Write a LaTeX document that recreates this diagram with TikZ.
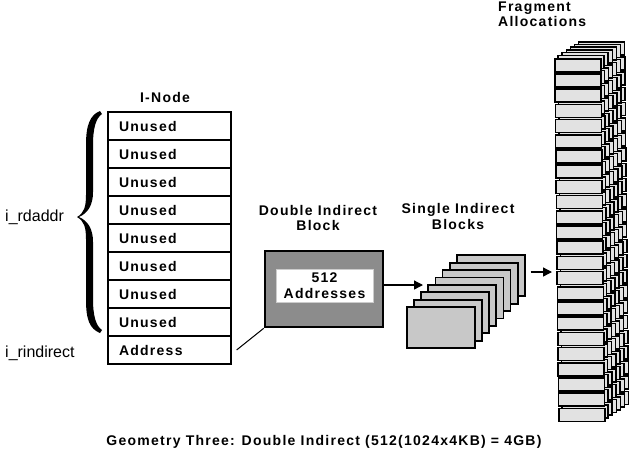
\documentclass[tikz,border=0pt]{standalone}
\usepackage{fontspec}
\setmainfont{Liberation Sans}
\newfontfamily\lblfont[LetterSpace=9]{Liberation Sans}
\usetikzlibrary{arrows.meta}
\definecolor{dblgray}{HTML}{8C8C8C}
\definecolor{sglgray}{HTML}{C8C8C8}
\definecolor{fraggray}{HTML}{E2E2E2}
\begin{document}
\begin{tikzpicture}[x=1pt,y=-1pt,
  lbl/.style={font=\lblfont\bfseries\fontsize{14}{15.5}\selectfont, align=center, inner sep=0pt},
  cell/.style={draw, line width=1.2pt, minimum width=123pt, minimum height=28pt,
    inner xsep=11pt, inner ysep=0pt, text width=101pt, align=left,
    font=\lblfont\bfseries\fontsize{14}{15}\selectfont},
  plainlbl/.style={font=\fontsize{16}{18}\selectfont, inner sep=0pt, anchor=west},
  arr/.style={line width=1.3pt, -{Triangle[length=9pt,width=9pt]}},
  sglblock/.style={draw, line width=1.8pt, fill=sglgray, minimum width=68pt, minimum height=41pt, inner sep=0pt},
  fragcard/.style={draw, line width=1.5pt, fill=fraggray}]
\useasboundingbox (0,0) rectangle (631,453);
\fill[white] (0,0) rectangle (631,453);

% I-Node table
\node[lbl] (inodelbl) at (165,97) {I-Node};
\foreach \k/\t in {1/Unused,2/Unused,3/Unused,4/Unused,5/Unused,6/Unused,7/Unused,8/Unused,9/Address}
  \node[cell] (r\k) at (169.5,{98+28*\k}) {\t};

% brace
\fill (100,111) .. controls (90,115) and (86,125) .. (86,145) -- (86,195)
  .. controls (86,207) and (84,213) .. (77,217)
  .. controls (84,221) and (86,227) .. (86,239) -- (86,300)
  .. controls (86,320) and (90,329) .. (100,333) -- (102,330)
  .. controls (96,326) and (93,316) .. (93,299) -- (93,242)
  .. controls (93,229) and (88,221) .. (79,217)
  .. controls (88,213) and (93,205) .. (93,192) -- (93,145)
  .. controls (93,128) and (96,118) .. (102,114) -- cycle;

\node[plainlbl] (rdaddr) at (5,217) {i\_rdaddr};
\node[plainlbl] (rind) at (5,353) {i\_rindirect};

% double indirect block
\node[lbl] (dbllbl) at (318,218) {Double Indirect\\Block};
\node[draw, line width=2.5pt, fill=dblgray, minimum width=118pt, minimum height=76pt, inner sep=0pt] (dbl) at (324,289) {};
\node[lbl, fill=white, draw=gray!40, line width=0.6pt, minimum width=97pt, minimum height=33pt] (addr) at (324.5,285.5) {512\\Addresses};
\draw[line width=1pt] ([xshift=5pt]r9.east) -- (dbl.south west);

% single indirect blocks
\node[lbl] (sgllbl) at (458,216.5) {Single Indirect\\Blocks};
\foreach \j in {7,6,...,0}
  \node[sglblock] (s\j) at ({441+7.1*\j},{327.5-7.4*\j}) {};
\coordinate (sin) at (423,285);
\draw[arr] (dbl.east |- sin) -- (sin);

% fragment allocations
\node[lbl, align=left, anchor=north west] (fraglbl) at (498,1.5) {Fragment\\Allocations};
\foreach \j in {6,5,...,1}
  \foreach \i in {0,...,23}
    \draw[fragcard] ({554+4*\i/23+4.1*\j},{58+15.2*\i-2.7*\j}) rectangle +(46,13);
\foreach \i in {0,...,23}
  \node[fragcard, minimum width=46pt, minimum height=13pt, inner sep=0pt, anchor=north west] (f\i) at ({554+4*\i/23},{58+15.2*\i}) {};
\coordinate (fin) at (552,272);
\draw[arr] ([xshift=5pt]s7.east |- fin) -- (fin);

% title
\node[lbl] (title) at (324,442) {Geometry Three: Double Indirect (512(1024x4KB) = 4GB)};
\end{tikzpicture}
\end{document}
